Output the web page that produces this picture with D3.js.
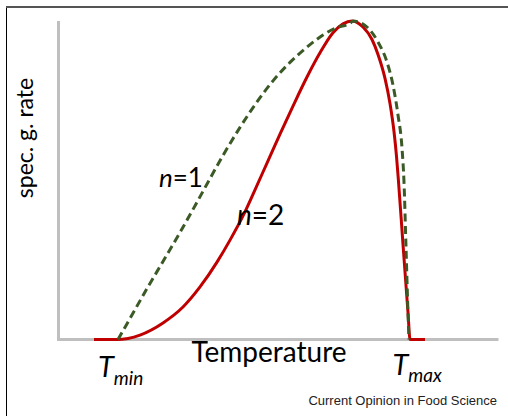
<!DOCTYPE html>
<html>
<head>
<meta charset="utf-8">
<script src="https://cdn.jsdelivr.net/npm/d3@7"></script>
<style>
  body { margin: 0; background: #fff; }
  svg { display: block; }
  text { font-family: Lato, "Open Sans", sans-serif; fill: #000; }
</style>
</head>
<body>
<div id="chart"></div>
<script>
// temperature (arbitrary units) and relative specific growth rate
const n2Temp = [3.55, 5.85, 8.15, 10.45, 12.45, 14.15, 15.85, 17.15, 18.45, 19.65, 20.85, 22.15, 23.45, 24.85, 26.15, 27.45, 28.45, 29.35, 30.45, 31.35, 31.95, 32.65, 33.15, 33.55, 33.8, 34.0, 34.45, 34.95, 35.15, 36.65];
const n2Rate = [0, 0, 0.014, 0.052, 0.102, 0.165, 0.243, 0.312, 0.388, 0.470, 0.554, 0.645, 0.733, 0.824, 0.900, 0.963, 0.991, 1.0, 0.981, 0.942, 0.895, 0.820, 0.741, 0.653, 0.575, 0.496, 0.299, 0.085, 0, 0];

const n1Temp = [5.95, 7.15, 8.85, 10.45, 12.15, 13.85, 14.95, 16.45, 18.15, 19.85, 21.45, 23.15, 24.85, 26.45, 27.85, 29.15, 29.45, 30.85, 31.95, 32.85, 33.45, 33.95, 34.35, 34.55, 34.75, 34.95, 35.05];
const n1Rate = [0, 0.066, 0.160, 0.245, 0.336, 0.431, 0.494, 0.578, 0.666, 0.746, 0.812, 0.870, 0.918, 0.956, 0.980, 0.992, 1.0, 0.981, 0.934, 0.871, 0.799, 0.705, 0.601, 0.494, 0.290, 0.083, 0];

const tMin = 5.95, tMax = 35.1;

const width = 508, height = 416;

const svg = d3.select('#chart').append('svg')
	.attr('width', width)
	.attr('height', height);

const x = d3.scaleLinear().domain([0, 44]).range([58.5, 498.5]);
const y = d3.scaleLinear().domain([0, 1]).range([339.5, 21]);

// outer frame
svg.append('line')
	.attr('x1', 6.5).attr('x2', 6.5).attr('y1', 7).attr('y2', height)
	.attr('stroke', '#000').attr('stroke-width', 1);
svg.append('line')
	.attr('x1', 6).attr('x2', width).attr('y1', 7).attr('y2', 7)
	.attr('stroke', '#555').attr('stroke-width', 2);

// axes, no ticks
svg.append('line')
	.attr('x1', x(0)).attr('x2', x(0))
	.attr('y1', y(1)).attr('y2', y(0) + 1.5)
	.attr('stroke', '#bfbfbf').attr('stroke-width', 3);
svg.append('line')
	.attr('x1', x(0) - 1.5).attr('x2', x(44))
	.attr('y1', y(0)).attr('y2', y(0))
	.attr('stroke', '#bfbfbf').attr('stroke-width', 3);

const line = d3.line()
	.x(d => x(d[0]))
	.y(d => y(d[1]))
	.curve(d3.curveMonotoneX);

svg.append('path')
	.datum(d3.zip(n2Temp, n2Rate))
	.attr('d', line)
	.attr('fill', 'none')
	.attr('stroke', '#c00000')
	.attr('stroke-width', 3)
	.attr('stroke-linejoin', 'round');

svg.append('path')
	.datum(d3.zip(n1Temp, n1Rate))
	.attr('d', line)
	.attr('fill', 'none')
	.attr('stroke', '#3b5a26')
	.attr('stroke-width', 3)
	.attr('stroke-dasharray', '8,4.5');

// labels
svg.append('text')
	.attr('transform', 'translate(33,138) rotate(-90)')
	.attr('text-anchor', 'middle')
	.style('font-size', '23px')
	.text('spec. g. rate');

svg.append('text')
	.attr('x', 269).attr('y', 362)
	.attr('text-anchor', 'middle')
	.style('font-size', '28px')
	.text('Temperature');

const n1 = svg.append('text').attr('x', 159).attr('y', 187).style('font-size', '26px');
n1.append('tspan').style('font-style', 'italic').text('n');
n1.append('tspan').text('=1');

const n2 = svg.append('text').attr('x', 237).attr('y', 225).style('font-size', '28px');
n2.append('tspan').style('font-style', 'italic').text('n');
n2.append('tspan').text('=2');

const tl = svg.append('text').attr('x', x(tMin) - 20).attr('y', 377).style('font-size', '29px').style('font-style', 'italic');
tl.append('tspan').text('T');
tl.append('tspan').attr('dy', 8).style('font-size', '19px').text('min');

const th = svg.append('text').attr('x', x(tMax) - 17).attr('y', 375).style('font-size', '29px').style('font-style', 'italic');
th.append('tspan').text('T');
th.append('tspan').attr('dy', 7).style('font-size', '19px').text('max');

svg.append('text')
	.attr('x', 497).attr('y', 405)
	.attr('text-anchor', 'end')
	.style('font-family', '"Liberation Sans", Arial, sans-serif')
	.style('font-size', '13px')
	.style('fill', '#222')
	.text('Current Opinion in Food Science');
</script>
</body>
</html>
